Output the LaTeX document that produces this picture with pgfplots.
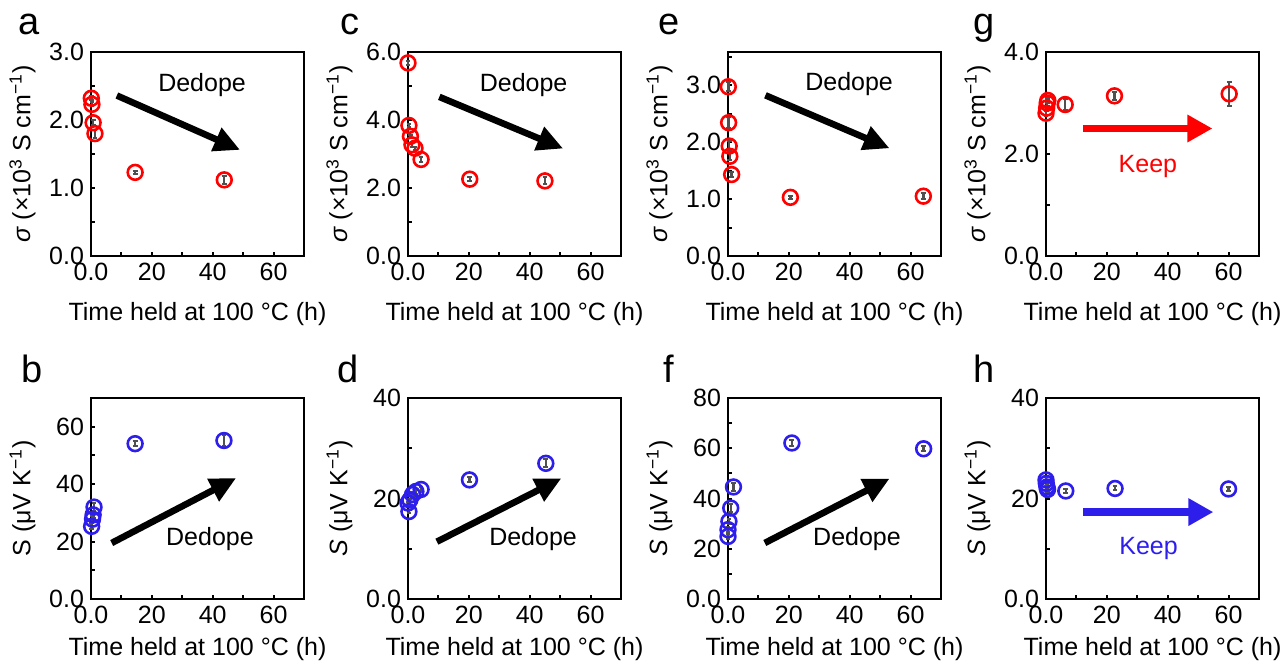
\documentclass[border=0pt]{standalone}
\usepackage{fontspec}
\setmainfont{Liberation Sans}
\usepackage{pgfplots}
\pgfplotsset{compat=1.18}
\usetikzlibrary{arrows.meta}
\definecolor{myred}{RGB}{255,0,0}
\definecolor{myblue}{RGB}{45,30,235}
\definecolor{errgray}{RGB}{80,80,80}
\newcommand{\fs}{\fontsize{12.5}{14}\selectfont}
\newcommand{\lf}{\fontsize{19}{21}\selectfont}
\tikzset{darrow/.style={line width=3.3pt, -{Triangle[length=13pt,width=12pt]}}}
\pgfplotsset{
 panel/.style={
   scale only axis, width=106.5pt, anchor=south west,
   xmin=0,xmax=70, xtick={0,20,40,60}, xticklabels={0.0,20,40,60},
   minor xtick={10,30,50},
   tick align=inside, tick pos=left,
   major tick length=2.2pt, minor tick length=2.2pt,
   axis line style={line width=1.1pt},
   every tick/.style={line width=1pt, black},
   ticklabel style={font=\fs},
   label style={font=\fs},
   xlabel={Time held at 100 °C (h)},
   /pgf/number format/assume math mode=true,
   clip=false,
 },
 toprow/.style={height=102pt, ylabel={{\itshape σ} (×10\textsuperscript{3} S cm\textsuperscript{−1})},
   xlabel style={yshift=-4pt}},
 botrow/.style={height=100.5pt},
 pts/.style={only marks, mark=o, mark size=3.7pt, mark options={#1, line width=1.3pt},
   error bars/.cd, y dir=both, y explicit,
   error bar style={errgray, line width=1.2pt},
   error mark options={rotate=90, errgray, mark size=1.2pt, line width=1pt}},
}
\begin{document}
\begin{tikzpicture}
\path[use as bounding box] (0,0) rectangle (643.5pt,335pt);
% panel letters
\node[anchor=base west, font=\lf] at (5.5pt,317.5pt) {a};
\node[anchor=base west, font=\lf] at (7pt,143.5pt) {b};
\node[anchor=base west, font=\lf] at (166.5pt,317.5pt) {c};
\node[anchor=base west, font=\lf] at (165pt,143.5pt) {d};
\node[anchor=base west, font=\lf] at (325.5pt,317.5pt) {e};
\node[anchor=base west, font=\lf] at (328pt,143.5pt) {f};
\node[anchor=base west, font=\lf] at (483pt,317.5pt) {g};
\node[anchor=base west, font=\lf] at (483pt,143.5pt) {h};

% ---- a ----
\begin{axis}[panel, toprow, at={(45.5pt,207pt)}, ymin=0, ymax=3,
  ytick={0,1,2,3}, yticklabels={0.0,1.0,2.0,3.0}, minor ytick={0.5,1.5,2.5}]
\addplot[pts=myred] coordinates {(0.1,2.32) +- (0,0.03) (0.3,2.23) +- (0,0.03) (0.7,1.96) +- (0,0.04) (1.3,1.80) +- (0,0.06) (14.5,1.23) +- (0,0.02) (43.8,1.12) +- (0,0.06)};
\draw[darrow] (axis cs:8.5,2.36) -- (axis cs:49,1.56);
\node[font=\fs] at (axis cs:36.5,2.51) {Dedope};
\end{axis}

% ---- c ----
\begin{axis}[panel, toprow, at={(204pt,207pt)}, ymin=0, ymax=6,
  ytick={0,2,4,6}, yticklabels={0.0,2.0,4.0,6.0}, minor ytick={1,3,5}]
\addplot[pts=myred] coordinates {(0.0,5.68) +- (0,0.05) (0.3,3.84) +- (0,0.05) (0.8,3.52) +- (0,0.05) (1.3,3.27) +- (0,0.05) (2.3,3.17) +- (0,0.05) (4.3,2.84) +- (0,0.08) (20.3,2.26) +- (0,0.06) (45.0,2.21) +- (0,0.1)};
\draw[darrow] (axis cs:10.3,4.68) -- (axis cs:51,3.16);
\node[font=\fs] at (axis cs:38,5.02) {Dedope};
\end{axis}

% ---- e ----
\begin{axis}[panel, toprow, at={(364pt,207pt)}, ymin=0, ymax=3.58,
  ytick={0,1,2,3}, yticklabels={0.0,1.0,2.0,3.0}, minor ytick={0.5,1.5,2.5,3.5}]
\addplot[pts=myred] coordinates {(0.1,2.97) +- (0,0.08) (0.2,2.34) +- (0,0.1) (0.4,1.93) +- (0,0.08) (0.6,1.75) +- (0,0.06) (1.2,1.43) +- (0,0.05) (20.5,1.03) +- (0,0.03) (64.2,1.05) +- (0,0.05)};
\draw[darrow] (axis cs:12.3,2.82) -- (axis cs:53.1,1.89);
\node[font=\fs] at (axis cs:39.8,3.02) {Dedope};
\end{axis}

% ---- g ----
\begin{axis}[panel, toprow, at={(523pt,207pt)}, ymin=0, ymax=4,
  ytick={0,2,4}, yticklabels={0.0,2.0,4.0}, minor ytick={1,3}]
\addplot[pts=myred] coordinates {(0.0,2.80) +- (0,0.05) (0.2,2.90) +- (0,0.05) (0.4,3.00) +- (0,0.05) (0.6,3.05) +- (0,0.05) (6.3,2.97) +- (0,0.1) (22.5,3.14) +- (0,0.08) (60.2,3.18) +- (0,0.24)};
\draw[myred, line width=3.6pt, -{Triangle[length=12.5pt,width=13pt]}] (axis cs:12.1,2.5) -- (axis cs:54.7,2.5);
\node[font=\fs, text=myred] at (axis cs:33.5,1.76) {Keep};
\end{axis}

% ---- b ----
\begin{axis}[panel, botrow, at={(45.5pt,35.5pt)}, ymin=0, ymax=70,
  ytick={0,20,40,60}, yticklabels={0.0,20,40,60}, minor ytick={10,30,50},
  ylabel={S (μV K\textsuperscript{−1})}]
\addplot[pts=myblue] coordinates {(0.2,25.3) +- (0,1) (0.5,27.8) +- (0,1) (0.7,29.3) +- (0,1) (1.0,32.0) +- (0,1.5) (14.5,54.1) +- (0,0.8) (43.7,55.2) +- (0,2)};
\draw[darrow] (axis cs:6.8,19.5) -- (axis cs:47.7,42.1);
\node[font=\fs] at (axis cs:39.1,20.9) {Dedope};
\end{axis}

% ---- d ----
\begin{axis}[panel, botrow, at={(204pt,35.5pt)}, ymin=0, ymax=40,
  ytick={0,20,40}, yticklabels={0.0,20,40}, minor ytick={10,30},
  ylabel={{\itshape S} (μV K\textsuperscript{−1})}]
\addplot[pts=myblue] coordinates {(0.3,17.4) +- (0,0.3) (0.0,19.1) +- (0,0.3) (0.6,19.7) +- (0,0.3) (1.5,20.8) +- (0,0.5) (2.6,21.4) +- (0,0.5) (4.3,21.8) +- (0,0.5) (20.2,23.7) +- (0,0.5) (45.3,27.0) +- (0,0.8)};
\draw[darrow] (axis cs:9.5,11.4) -- (axis cs:50.4,24.0);
\node[font=\fs] at (axis cs:41.1,11.9) {Dedope};
\end{axis}

% ---- f ----
\begin{axis}[panel, botrow, at={(364pt,35.5pt)}, ymin=0, ymax=80,
  ytick={0,20,40,60,80}, yticklabels={0.0,20,40,60,80}, minor ytick={10,30,50,70},
  ylabel={{\itshape S} (μV K\textsuperscript{−1})}]
\addplot[pts=myblue] coordinates {(0.0,24.9) +- (0,1) (0.0,27.6) +- (0,1) (0.3,30.9) +- (0,1) (0.9,36.2) +- (0,1.5) (1.8,44.6) +- (0,1.5) (21.0,62.1) +- (0,1) (64.3,59.8) +- (0,1)};
\draw[darrow] (axis cs:12.1,22.3) -- (axis cs:53.1,47.9);
\node[font=\fs] at (axis cs:42.4,23.9) {Dedope};
\end{axis}

% ---- h ----
\begin{axis}[panel, botrow, at={(523pt,35.5pt)}, ymin=0, ymax=40,
  ytick={0,20,40}, yticklabels={0.0,20,40}, minor ytick={10,30},
  ylabel={{\itshape S} (μV K\textsuperscript{−1})}]
\addplot[pts=myblue] coordinates {(0.0,23.7) +- (0,0.5) (0.1,23.0) +- (0,0.5) (0.3,22.3) +- (0,0.5) (0.5,21.8) +- (0,0.5) (6.5,21.5) +- (0,0.4) (22.7,22.0) +- (0,0.4) (60.0,21.9) +- (0,0.4)};
\draw[myblue, line width=3.6pt, -{Triangle[length=12.5pt,width=13pt]}] (axis cs:12.3,17.3) -- (axis cs:55,17.3);
\node[font=\fs, text=myblue] at (axis cs:33.7,10) {Keep};
\end{axis}
\end{tikzpicture}
\end{document}
